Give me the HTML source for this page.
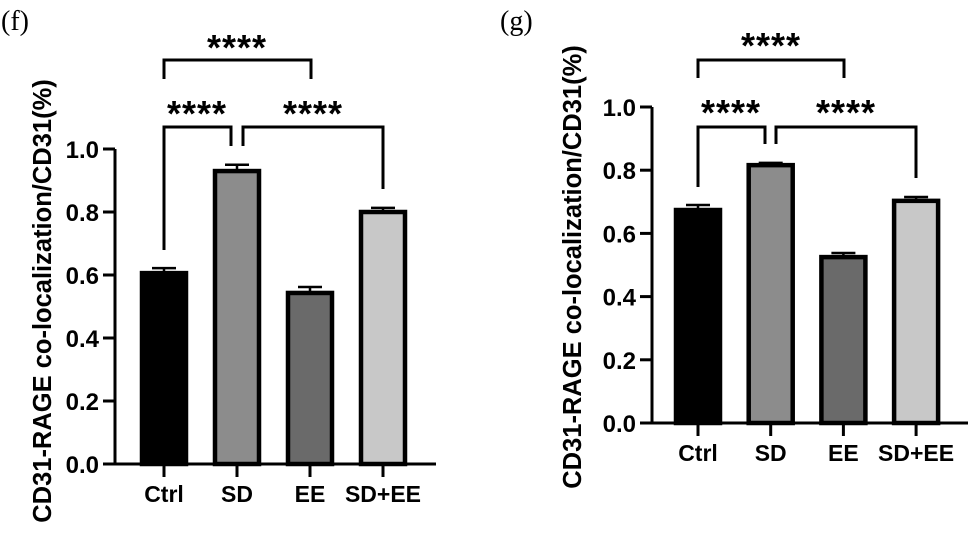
<!DOCTYPE html>
<html><head><meta charset="utf-8"><style>
html,body{margin:0;padding:0;background:#fff;}
svg{display:block;font-family:"Liberation Sans",Arial,sans-serif;}
</style></head><body>
<svg id="fig" width="975" height="537" viewBox="0 0 975 537" xmlns="http://www.w3.org/2000/svg">
<text x="1" y="30" font-family="Liberation Serif,serif" font-size="28">(f)</text>
<text x="500" y="30" font-family="Liberation Serif,serif" font-size="28">(g)</text>
</svg>
<script>
const categories = ["Ctrl","SD","EE","SD+EE"];
const fillColors = ["#000000","#8c8c8c","#6a6a6a","#c8c8c8"];
const yTicks = [0,0.2,0.4,0.6,0.8,1.0];
const tickLabels = ["0.0","0.2","0.4","0.6","0.8","1.0"];
const fMeans = [0.606,0.93,0.543,0.80];
const fErrors = [0.016,0.02,0.019,0.013];
const gMeans = [0.674,0.816,0.525,0.703];
const gErrors = [0.016,0.007,0.013,0.012];

const NS="http://www.w3.org/2000/svg";
const svg=document.getElementById('fig');
function mk(tag,attrs,parent){const e=document.createElementNS(NS,tag);for(const k in attrs)e.setAttribute(k,attrs[k]);(parent||svg).appendChild(e);return e;}

function panel(p){
  const g=mk('g',{});
  
  
  const y=v=>p.y0-(v/1.0)*(p.y0-p.y1);
  const x=i=>p.cx0+i*p.step;
  p.means.forEach((m,i)=>{
    const r=mk('rect',{x:x(i)-22,y:y(m),width:44,height:p.y0-y(m),fill:fillColors[i],stroke:'#000','stroke-width':4.5},g);
    
    
    const e=mk('path',{d:`M${x(i)},${y(m)} V${y(m+p.errs[i])} M${x(i)-12},${y(m+p.errs[i])} H${x(i)+12}`,stroke:'#000','stroke-width':2.5,fill:'none'},g);
    
    
  });
  const ax=mk('path',{d:`M${p.ax},${p.y1} V${p.y0} H${p.xEnd}`,stroke:'#000','stroke-width':3,fill:'none'},g);
  
  
  yTicks.forEach((t,i)=>{
    mk('line',{x1:p.ax-12,x2:p.ax,y1:y(t),y2:y(t),stroke:'#000','stroke-width':3},g);
    const tl=mk('text',{x:p.ax-16,y:y(t)+9,'text-anchor':'end','font-size':24,'font-weight':'bold'},g);
    tl.textContent=tickLabels[i];
    
    
  });
  categories.forEach((c,i)=>{
    mk('line',{x1:x(i),x2:x(i),y1:p.y0,y2:p.y0+13,stroke:'#000','stroke-width':3},g);
    const cl=mk('text',{x:x(i),y:p.y0+38,'text-anchor':'middle','font-size':23,'font-weight':'bold'},g);
    cl.textContent=c;
    
    
  });
  const t=mk('text',{transform:`translate(${p.titleX},${p.titleY}) rotate(-90)`,'text-anchor':'middle','font-size':25.5,'font-weight':'bold'},g);
  t.textContent='CD31-RAGE co-localization/CD31(%)';
  
  
  p.brackets.forEach(b=>{
    const br=mk('path',{d:`M${b[0]},${b[1]} V${b[2]} H${b[3]} V${b[4]}`,stroke:'#000','stroke-width':3,fill:'none'},g);
    
    
    const s=mk('text',{x:b[5],y:b[6],'text-anchor':'middle','font-size':36,'font-weight':'bold','letter-spacing':'1'},g);
    s.textContent='****';
    
    
  });
}
panel({name:'panel-f',means:fMeans,errs:fErrors,y0:464,y1:149,ax:115,xEnd:436,cx0:164,step:73,titleX:51,titleY:301,
  brackets:[[164,79,60,311,79,237,60],[164,250,127,231,146,197,126],[243,146,127,383,189,313,126]]});
panel({name:'panel-g',means:gMeans,errs:gErrors,y0:423,y1:107,ax:652,xEnd:968,cx0:698,step:72.7,titleX:581,titleY:267,
  brackets:[[698,78,60,844,78,771,58],[698,187,127,765,144,731,125],[776,144,127,916,178,846,125]]});
</script>
</body></html>
